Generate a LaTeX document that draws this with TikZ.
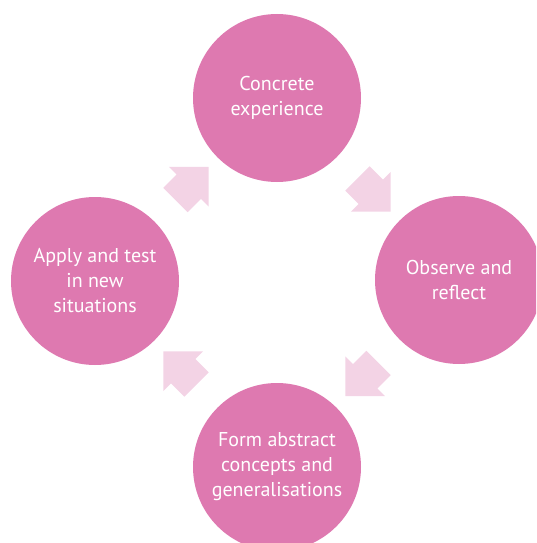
\documentclass[tikz,border=0pt]{standalone}
\usepackage{fontspec}
\setmainfont{PT Sans}
\usepackage{tikz}
\usetikzlibrary{shapes.arrows}
\usetikzlibrary{calc}

\definecolor{cyclepink}{HTML}{DE79B0}
\definecolor{arrowpink}{HTML}{F3D3E5}

\begin{document}
\begin{tikzpicture}[x=1pt, y=-1pt,
        stage/.style={circle, fill=cyclepink, text=white, minimum size=168pt, inner sep=0pt,
            align=center, font=\fontsize{20}{25}\selectfont},
        turn/.style={single arrow, fill=arrowpink, minimum height=47pt, inner xsep=0pt,
            inner ysep=17pt, single arrow head extend=11pt}]
    \clip (0, 0) rectangle (536, 543);
    % the four stages of the cycle
    \node[stage] (concrete) at (277, 98) {Concrete\\experience};
    \node[stage] (observe) at (459, 280) {Observe and\\reflect};
    \node[stage] (abstract) at (277, 467) {Form abstract\\concepts and\\generalisations};
    \node[stage] (apply) at (95, 281) {Apply and test\\in new\\situations};
    % block arrows half way between them
    \node[turn, rotate=-45] (toobserve) at ($(concrete)!0.5!(observe)$) {};
    \node[turn, rotate=-135] (toabstract) at ($(observe)!0.5!(abstract)$) {};
    \node[turn, rotate=135] (toapply) at ($(abstract)!0.5!(apply)$) {};
    \node[turn, rotate=45] (toconcrete) at ($(apply)!0.5!(concrete)$) {};
\end{tikzpicture}
\end{document}
